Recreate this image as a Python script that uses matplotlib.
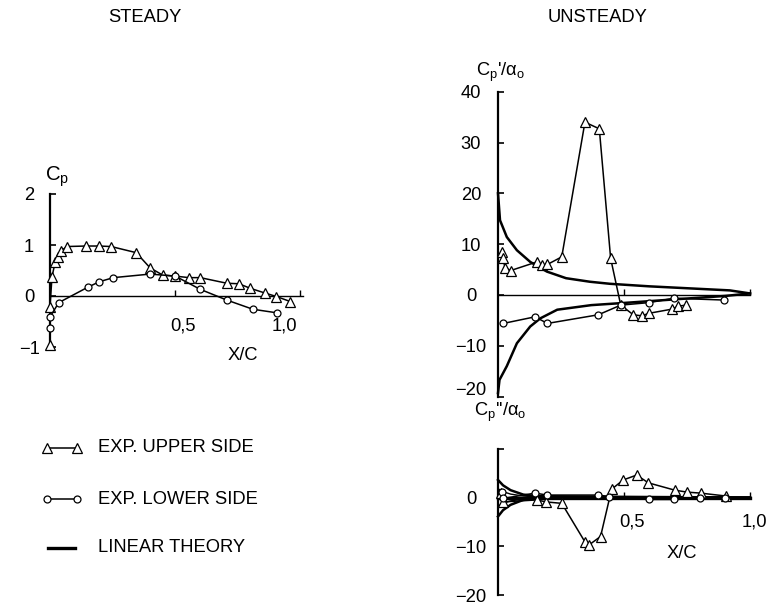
import matplotlib
matplotlib.use("Agg")
from matplotlib import pyplot as plt
from matplotlib.lines import Line2D
from matplotlib.transforms import ScaledTranslation

plt.rcParams["font.family"] = ["Liberation Sans", "DejaVu Sans"]
plt.rcParams["mathtext.fontset"] = "custom"
plt.rcParams["mathtext.rm"] = "Liberation Sans"
plt.rcParams["mathtext.it"] = "Liberation Sans"
FS = 13.2

# --- steady Cp distribution ---
steady_x_upper = [0.0, 0.0, 0.008, 0.021, 0.032, 0.045, 0.068, 0.144, 0.195, 0.244,
                  0.344, 0.40, 0.45, 0.50, 0.555, 0.60, 0.706, 0.754, 0.80, 0.857, 0.904, 0.96]
steady_cp_upper = [-0.96, -0.21, 0.38, 0.67, 0.77, 0.89, 0.97, 0.98, 0.98, 0.97,
                   0.85, 0.55, 0.41, 0.39, 0.36, 0.36, 0.25, 0.24, 0.15, 0.06, -0.01, -0.11]
steady_x_lower = [0.0, 0.0, 0.035, 0.15, 0.197, 0.253, 0.40, 0.50, 0.60, 0.706, 0.81, 0.906]
steady_cp_lower = [-0.63, -0.41, -0.13, 0.17, 0.28, 0.36, 0.43, 0.39, 0.13, -0.08, -0.26, -0.33]

# --- unsteady, in-phase part Cp'/alpha0 ---
inph_x_upper = [0.015, 0.019, 0.028, 0.05, 0.154, 0.173, 0.196, 0.253, 0.345, 0.402,
                0.447, 0.487, 0.537, 0.570, 0.600, 0.689, 0.716, 0.746]
inph_cp_upper = [8.5, 7.2, 5.4, 4.8, 6.5, 5.9, 6.0, 7.5, 34.0, 32.7,
                 7.2, -2.0, -3.9, -4.1, -3.6, -2.8, -2.2, -2.0]
inph_x_lower = [0.021, 0.147, 0.196, 0.398, 0.487, 0.60, 0.698, 0.897]
inph_cp_lower = [-5.6, -4.3, -5.6, -3.9, -2.0, -1.5, -0.65, -1.0]

inph_th_x_upper = [0.0, 0.008, 0.035, 0.075, 0.128, 0.194, 0.27, 0.365, 0.444, 0.60, 0.80, 0.92, 1.0]
inph_th_upper = [20.0, 14.7, 11.4, 8.8, 6.5, 4.6, 3.3, 2.6, 2.2, 1.7, 1.2, 0.9, 0.3]
inph_th_x_lower = [0.0, 0.006, 0.035, 0.075, 0.128, 0.168, 0.235, 0.37, 0.52, 0.72, 0.90, 1.0]
inph_th_lower = [-19.3, -16.7, -14.0, -9.5, -6.2, -4.6, -2.9, -2.0, -1.5, -0.8, -0.2, 0.3]

# --- unsteady, out-of-phase part Cp''/alpha0 ---
outph_x_upper = [0.012, 0.02, 0.154, 0.19, 0.253, 0.345, 0.362, 0.407, 0.451, 0.497,
                 0.55, 0.597, 0.702, 0.751, 0.804, 0.905]
outph_cp_upper = [1.0, -0.9, -0.5, -0.9, -1.2, -9.1, -9.7, -8.0, 1.7, 3.6,
                  4.6, 3.0, 1.5, 1.1, 0.9, 0.3]
outph_x_lower = [0.015, 0.02, 0.147, 0.195, 0.398, 0.44, 0.60, 0.70, 0.80, 0.90]
outph_cp_lower = [1.2, -0.2, 0.9, 0.5, 0.5, 0.2, -0.4, -0.4, -0.2, 0.0]

outph_th_x = [0.0, 0.02, 0.05, 0.10, 0.15, 0.30, 0.60, 1.0]
outph_th_outer_up = [3.6, 2.5, 1.5, 0.6, 0.3, 0.2, 0.1, 0.0]
outph_th_outer_lo = [-3.9, -2.6, -1.5, -0.5, -0.2, -0.1, 0.0, 0.0]
outph_th_inner_up = [1.8, 1.2, 0.7, 0.3, 0.15, 0.1, 0.05, 0.0]
outph_th_inner_lo = [-1.8, -1.2, -0.7, -0.3, -0.15, -0.1, 0.0, 0.0]

W, H = 768, 613
fig = plt.figure(figsize=(W / 100, H / 100), dpi=100)


def rect(left, top, right, bottom):
    return [left / W, 1 - bottom / H, (right - left) / W, (bottom - top) / H]


def fxy(x, y):
    return x / W, 1 - y / H


def style_axes(ax, ybounds, xmax, yticks, ylabels, pad):
    for side in ("top", "right"):
        ax.spines[side].set_visible(False)
    ax.spines["left"].set_bounds(*ybounds)
    ax.spines["left"].set_linewidth(1.6)
    ax.spines["bottom"].set_position(("data", 0))
    ax.spines["bottom"].set_bounds(0, xmax)
    ax.spines["bottom"].set_linewidth(1.0)
    ax.set_yticks(yticks)
    ax.set_yticklabels(ylabels, fontsize=FS)
    for lab in ax.get_yticklabels():
        lab.set_horizontalalignment("center")
    ax.set_xticks([0.5, 1.0])
    ax.set_xticklabels([])
    ax.tick_params(axis="y", direction="in", length=4, width=1.2, pad=pad)
    ax.tick_params(axis="x", direction="in", length=4, width=1.0)
    ax.patch.set_visible(False)


def lift_last_label(ax, pts):
    lab = ax.get_yticklabels()[-1]
    lab.set_transform(lab.get_transform() + ScaledTranslation(0, pts / 72, fig.dpi_scale_trans))


up_kw = dict(color="black", lw=1.1, marker="^", ms=6.8, mfc="white", mec="black",
             mew=0.9, clip_on=False, zorder=3)
lo_kw = dict(color="black", lw=1.1, marker="o", ms=5.0, mfc="white", mec="black",
             mew=0.9, clip_on=False, zorder=3)
th_kw = dict(color="black", lw=1.8, clip_on=False, zorder=2)

# steady panel
ax_s = fig.add_axes(rect(50, 194, 303, 347))
ax_s.set_xlim(0, 1.01)
ax_s.set_ylim(-1, 2)
style_axes(ax_s, (-1, 2), 1.01, [2, 1, 0, -1], ["2", "1", "0", "\u22121"], 15)
ax_s.plot(steady_x_upper, steady_cp_upper, **up_kw)
ax_s.plot(steady_x_lower, steady_cp_lower, **lo_kw)

# unsteady in-phase panel
ax_u = fig.add_axes(rect(498, 91.7, 750, 396.6))
ax_u.set_xlim(0, 1.0)
ax_u.set_ylim(-20, 40)
style_axes(ax_u, (-20, 40), 1.0, [40, 30, 20, 10, 0, -10, -20],
           ["40", "30", "20", "10", "0", "\u221210", "\u221220"], 19.5)
lift_last_label(ax_u, 6)
ax_u.plot(inph_th_x_upper, inph_th_upper, **th_kw)
ax_u.plot(inph_th_x_lower, inph_th_lower, **th_kw)
ax_u.plot(inph_x_upper, inph_cp_upper, **up_kw)
ax_u.plot(inph_x_lower, inph_cp_lower, **lo_kw)

# unsteady out-of-phase panel
ax_l = fig.add_axes(rect(498, 448.75, 750, 595))
ax_l.set_xlim(0, 1.0)
ax_l.set_ylim(-20, 10)
style_axes(ax_l, (-20, 10), 1.0, [10, 0, -10, -20], ["", "0", "\u221210", "\u221220"], 19.5)
ax_l.spines["bottom"].set_linewidth(2.4)
for th in (outph_th_outer_up, outph_th_outer_lo):
    ax_l.plot(outph_th_x, th, **th_kw)
for th in (outph_th_inner_up, outph_th_inner_lo):
    ax_l.plot(outph_th_x, th, color="black", lw=1.0, clip_on=False, zorder=2)
ax_l.plot(outph_x_upper, outph_cp_upper, **up_kw)
ax_l.plot(outph_x_lower, outph_cp_lower, **lo_kw)

# titles, axis names and x labels
fig.text(*fxy(145, 17), "STEADY", fontsize=FS, ha="center", va="center")
fig.text(*fxy(598, 17), "UNSTEADY", fontsize=FS, ha="center", va="center")
fig.text(*fxy(57, 177), r"$\mathrm{C_p}$", fontsize=FS + 1.5, ha="center", va="center")
fig.text(*fxy(500, 72), r"$\mathrm{C_p}$'/$\alpha_\mathrm{o}$", fontsize=FS, ha="center", va="center")
fig.text(*fxy(500, 412), r"$\mathrm{C_p}$''/$\alpha_\mathrm{o}$", fontsize=FS, ha="center", va="center")
fig.text(*fxy(183, 326), "0,5", fontsize=FS, ha="center", va="center")
fig.text(*fxy(284, 326), "1,0", fontsize=FS, ha="center", va="center")
fig.text(*fxy(243, 355), "X/C", fontsize=FS, ha="center", va="center")
fig.text(*fxy(632, 522), "0,5", fontsize=FS, ha="center", va="center")
fig.text(*fxy(767, 522), "1,0", fontsize=FS, ha="right", va="center")
fig.text(*fxy(682, 553), "X/C", fontsize=FS, ha="center", va="center")

# key
key_rows = [
    (448, "EXP. UPPER SIDE", up_kw),
    (499, "EXP. LOWER SIDE", lo_kw),
    (548, "LINEAR THEORY", dict(color="black", lw=2.4)),
]
for y, label, kw in key_rows:
    kw = {k: v for k, v in kw.items() if k not in ("clip_on", "zorder")}
    if "marker" in kw:
        xs = [46.7, 76.7]
    else:
        xs = [48, 75]
    (x0, yy), (x1, _) = fxy(xs[0], y), fxy(xs[1], y)
    fig.add_artist(Line2D([x0, x1], [yy, yy], transform=fig.transFigure, **kw))
    fig.text(*fxy(98, y), label, fontsize=FS, ha="left", va="center")

fig.savefig("out.png", dpi=100)
